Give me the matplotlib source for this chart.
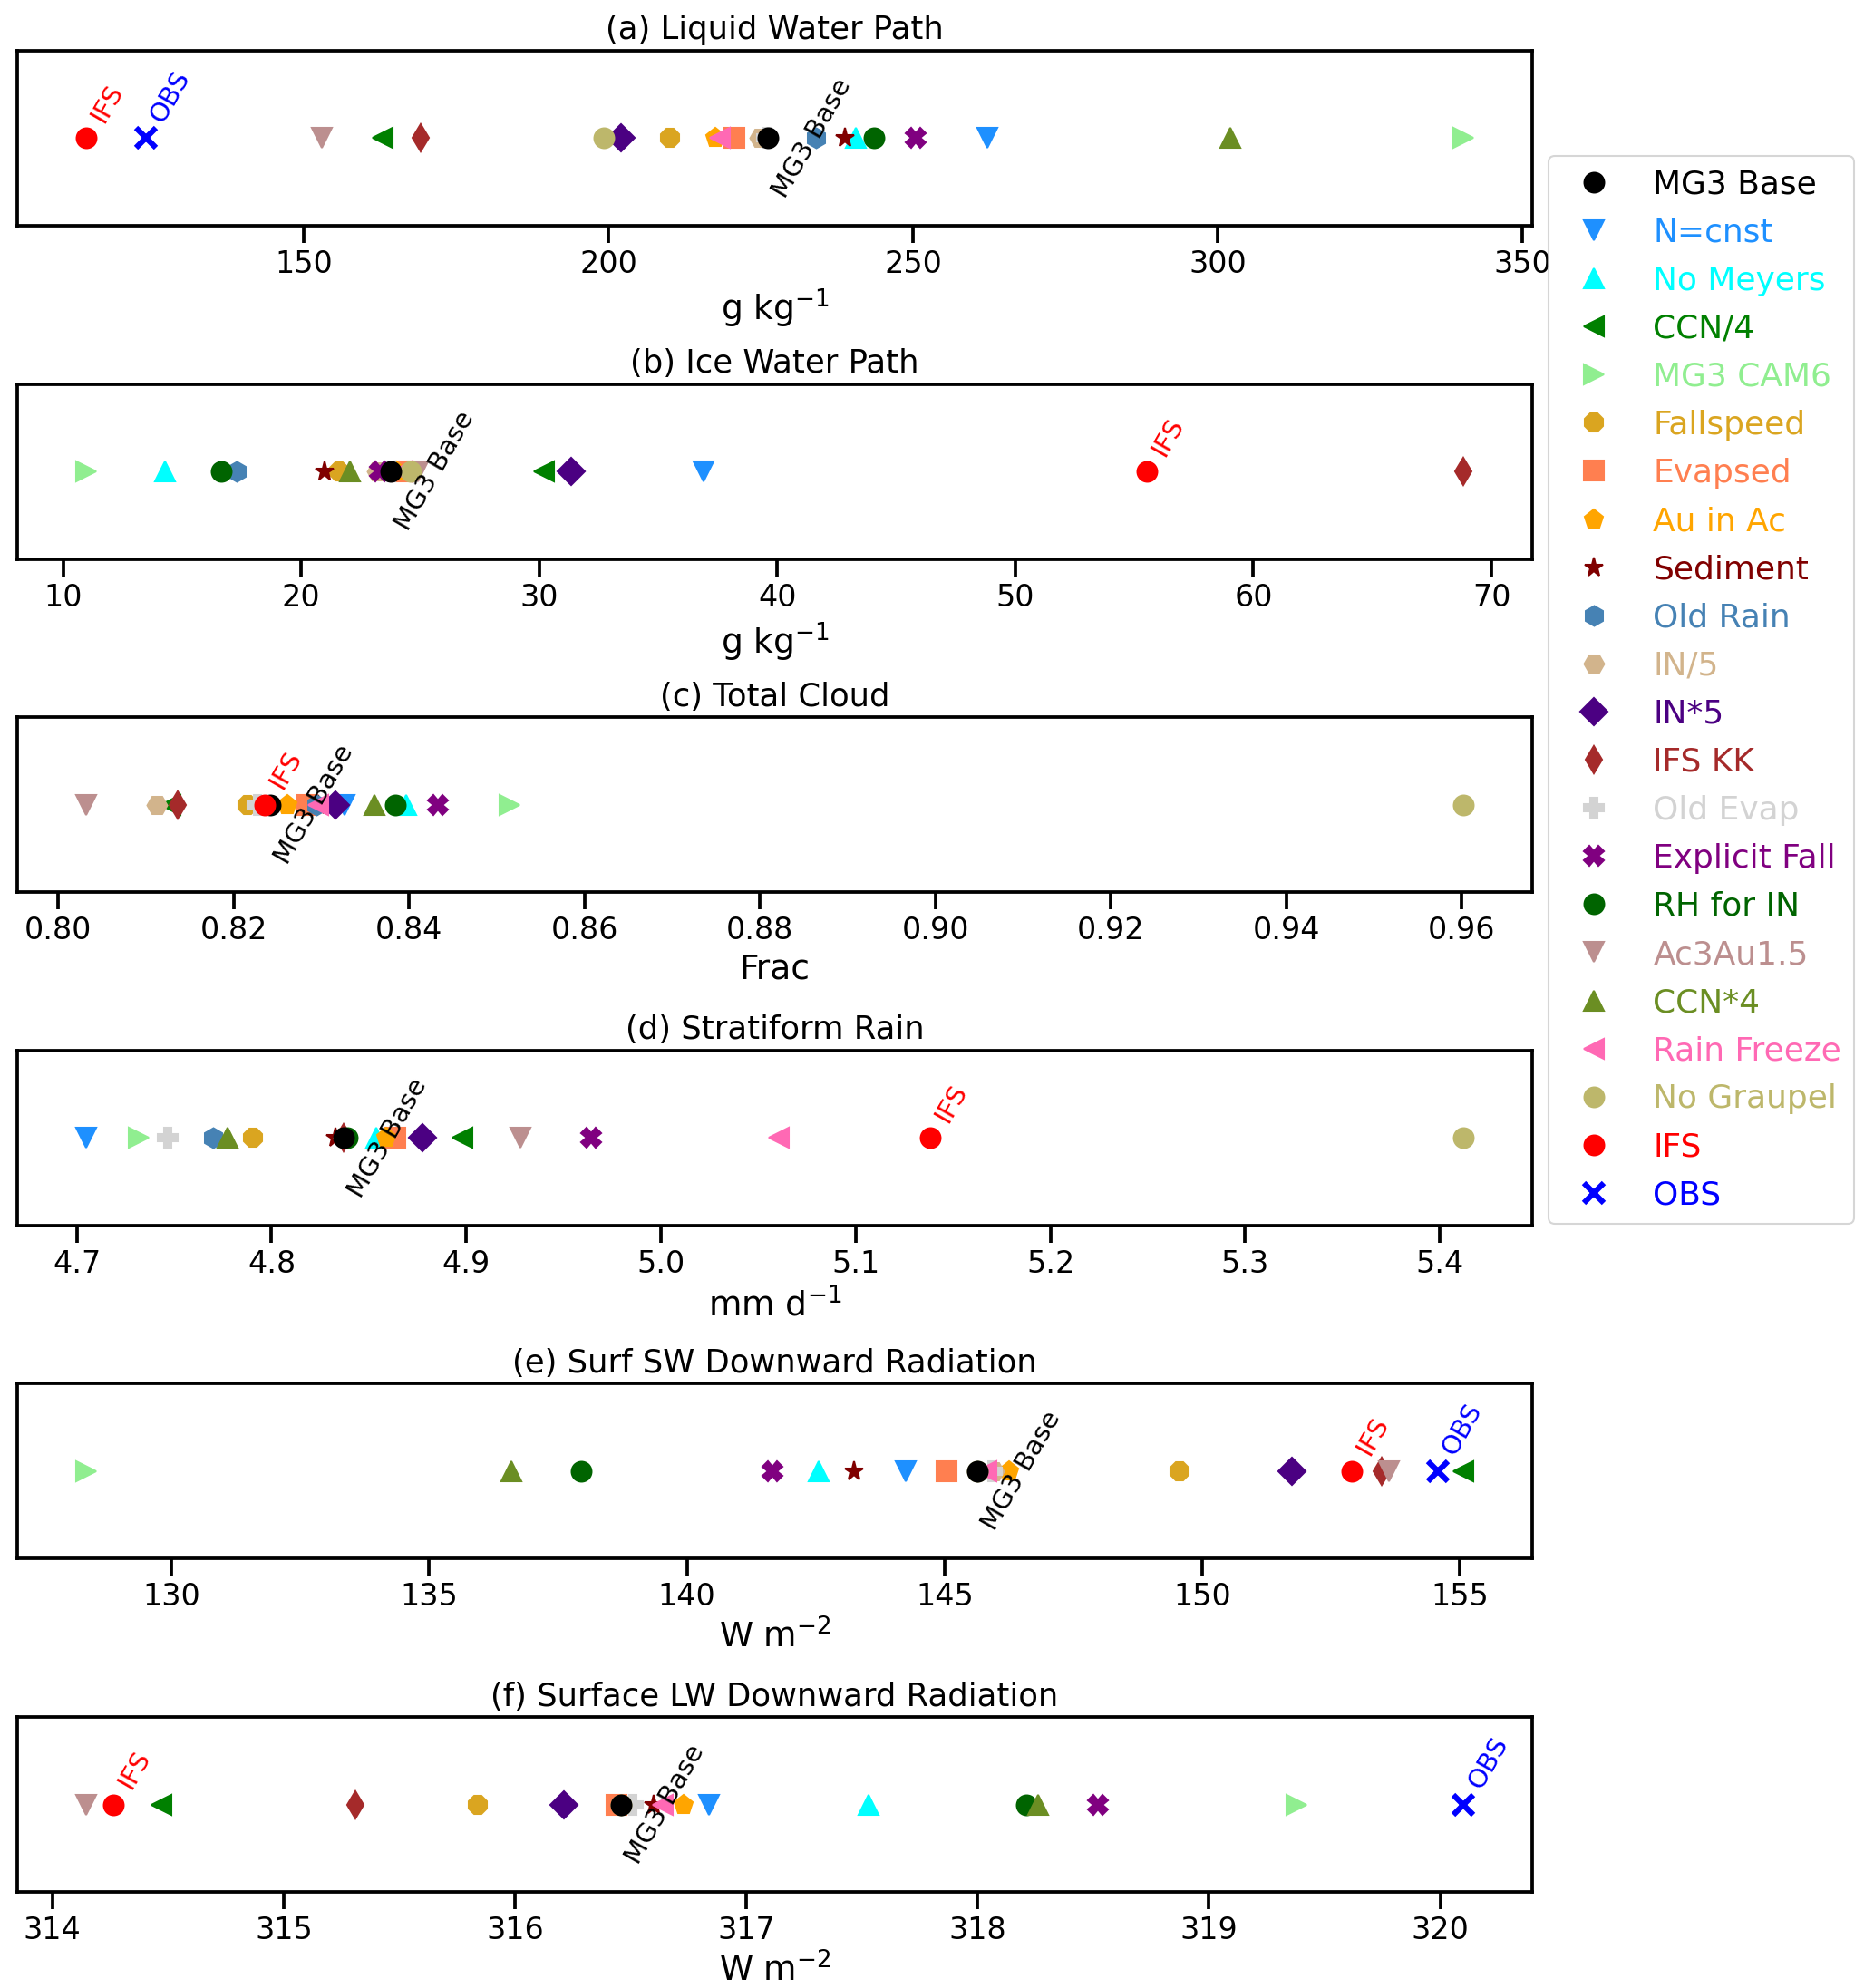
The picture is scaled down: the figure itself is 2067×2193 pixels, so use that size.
import matplotlib
matplotlib.use('Agg')
import matplotlib.pyplot as plt
from matplotlib.ticker import MultipleLocator

# experiment names, in legend order
names = ['MG3 Base', 'N=cnst', 'No Meyers', 'CCN/4', 'MG3 CAM6', 'Fallspeed',
         'Evapsed', 'Au in Ac', 'Sediment', 'Old Rain', 'IN/5', 'IN*5',
         'IFS KK', 'Old Evap', 'Explicit Fall', 'RH for IN', 'Ac3Au1.5',
         'CCN*4', 'Rain Freeze', 'No Graupel', 'IFS', 'OBS']
colors = ['black', 'dodgerblue', 'cyan', 'green', 'lightgreen', 'goldenrod',
          'coral', 'orange', 'maroon', 'steelblue', 'tan', 'indigo',
          'brown', 'lightgrey', 'purple', 'darkgreen', 'rosybrown',
          'olivedrab', 'hotpink', 'darkkhaki', 'red', 'blue']
markers = ['o', 'v', '^', '<', '>', '8', 's', 'p', '*', 'h', 'H', 'D',
           'd', 'P', 'X', 'o', 'v', '^', '<', 'o', 'o', 'x']

# one value per experiment (None = not shown)
lwp = [226.1, 262.2, 240.6, 162.9, 340.3, 210.1, 220.7, 217.5, 238.8, 234.0,
       224.8, 202.0, 169.2, 226.0, 250.4, 243.5, 152.9, 302.1, 218.2, 199.2,
       114.2, 124.0]
iwp = [23.76, 36.9, 14.27, 30.2, 10.96, 21.6, 24.3, 24.0, 20.96, 17.28,
       23.2, 31.35, 68.82, 23.8, 23.3, 16.65, 24.9, 22.03, 24.2, 24.6,
       55.54, None]
cld = [0.8242, 0.8327, 0.8397, 0.8128, 0.8515, 0.8216, 0.8284, 0.8261, 0.8297,
       0.8295, 0.8113, 0.8316, 0.8136, 0.8227, 0.8433, 0.8384, 0.8032, 0.8361,
       0.8297, 0.9602, 0.8236, None]
rain = [4.8368, 4.7048, 4.854, 4.898, 4.732, 4.7906, 4.8635, 4.8587, 4.833,
        4.770, 4.8368, 4.8777, 4.8368, 4.7465, 4.9642, 4.839, 4.9276, 4.7773,
        5.0604, 5.412, 5.1382, None]
swd = [145.64, 144.24, 142.55, 155.07, 128.34, 149.57, 145.04, 146.26, 143.25,
       145.64, 145.95, 151.75, 153.48, 145.92, 141.66, 137.94, 153.62, 136.6,
       145.82, 145.64, 152.91, 154.57]
lwd = [316.46, 316.84, 317.53, 314.47, 319.38, 315.84, 316.44, 316.73, 316.60,
       316.46, 316.46, 316.21, 315.31, 316.51, 318.52, 318.21, 314.146, 318.26,
       316.64, 316.46, 314.263, 320.10]

panels = [lwp, iwp, cld, rain, swd, lwd]
titles = ['(a) Liquid Water Path', '(b) Ice Water Path', '(c) Total Cloud',
          '(d) Stratiform Rain', '(e) Surf SW Downward Radiation',
          '(f) Surface LW Downward Radiation']
xlabels = ['g kg$^{-1}$', 'g kg$^{-1}$', 'Frac', 'mm d$^{-1}$',
           'W m$^{-2}$', 'W m$^{-2}$']
tick_steps = [50, 10, 0.02, 0.1, 5, 1]

fig, axes = plt.subplots(6, 1, figsize=(2067 / 150, 2193 / 150), dpi=150)
fig.subplots_adjust(left=0.0092, right=0.8176, top=0.9745, bottom=0.0483,
                    hspace=0.905)

handles = []
for p, ax in enumerate(axes):
    vals = panels[p]
    for i, name in enumerate(names):
        if vals[i] is None:
            continue
        z = 2
        if name == 'MG3 Base':
            z = 3
        if name in ('IFS', 'OBS'):
            z = 4
        mew = 3 if markers[i] == 'x' else 1
        h, = ax.plot([vals[i]], [0], linestyle='none', marker=markers[i],
                     color=colors[i], ms=10.5, mew=mew, zorder=z, label=name)
        if p == 0:
            handles.append(h)
        if name == 'MG3 Base':
            ax.annotate(name, (vals[i], 0), xytext=(0, 0), textcoords='offset points',
                        rotation=60, ha='left', va='center', fontsize=14, color='black')
        elif name in ('IFS', 'OBS'):
            ax.annotate(name, (vals[i], 0), xytext=(0, 6), textcoords='offset points',
                        rotation=60, ha='left', va='bottom', fontsize=14, color=colors[i])
    ax.set_ylim(-1, 1)
    ax.set_yticks([])
    ax.xaxis.set_major_locator(MultipleLocator(tick_steps[p]))
    ax.tick_params(axis='x', labelsize=16, width=1.8, length=9)
    for s in ax.spines.values():
        s.set_linewidth(1.8)
    ax.set_title(titles[p], fontsize=17)
    ax.set_xlabel(xlabels[p], fontsize=18)

leg = fig.legend(handles, names, loc='upper left',
                 bbox_to_anchor=(1708 / 2067, 1 - 172 / 2193), borderaxespad=0,
                 fontsize=17.3, labelspacing=0.53, numpoints=1)
for txt, c in zip(leg.get_texts(), colors):
    txt.set_color(c)

fig.savefig('out.png', dpi=150)
